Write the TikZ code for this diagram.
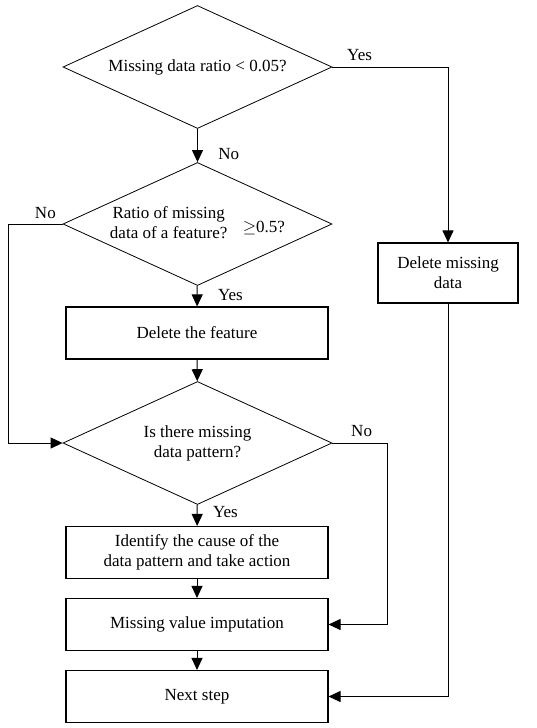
\documentclass[tikz,border=0pt]{standalone}
\usepackage{fontspec}
\setmainfont{Liberation Serif}
\usetikzlibrary{shapes.geometric, arrows.meta, positioning}

\tikzset{
    decision/.style={diamond, draw, line width=0.8pt, aspect=2.2, minimum width=269pt, minimum height=123pt, inner sep=0pt, align=center},
    process/.style={rectangle, draw, line width=1.1pt, minimum width=262pt, minimum height=52pt, align=center},
}

\begin{document}
\begin{tikzpicture}[>={Triangle[width=11pt,length=12pt]}, x=1pt, y=-1pt, line width=1pt, font=\fontsize{17}{20}\selectfont]
    \useasboundingbox (0,0) rectangle (536,728);

    \node[decision] (d1) at (197.5, 67) {Missing data ratio < 0.05?};
    \node[decision] (d2) at (197.5, 224) {\begin{tabular}{@{}c@{}}Ratio of missing\\data of a feature?\end{tabular}\hspace{0.9em}\raisebox{-4pt}{$\geq$0.5?}};
    \node[process] (feat) at (197, 333) {Delete the feature};
    \node[decision] (d3) at (197.5, 443) {Is there missing\\data pattern?};
    \node[process] (cause) at (197, 552.5) {Identify the cause of the\\data pattern and take action};
    \node[process] (imput) at (197, 624.5) {Missing value imputation};
    \node[process] (next) at (197, 696.5) {Next step};
    \node[process, minimum width=140pt, minimum height=60pt] (delmiss) at (448, 273) {Delete missing\\data};

    \coordinate (leftturn) at (8, 224);
    \coordinate (rightturn) at (387, 443);

    \path[->]
        (d1) edge[] node[right=17pt, pos=0.75] {No} (d2)
        (d2) edge[] node[right=17pt, pos=0.45] {Yes} (feat)
        (feat) edge[] (d3)
        (d3) edge[] node[right=12pt, pos=0.35] {Yes} (cause)
        (cause) edge[] (imput)
        (imput) edge[] (next)
    ;

    \draw[->] (d1.east) node[above right=3pt and 11pt] {Yes} -| (delmiss.north);
    \draw[->] (d2.west) node[above left=2pt and 3pt] {No} -- (leftturn) |- (d3.west);
    \draw[->] (d3.east) node[above right=3pt and 15pt] {No} -- (rightturn) |- (imput.east);
    \draw[->] (delmiss.south) |- (next.east);
\end{tikzpicture}
\end{document}
